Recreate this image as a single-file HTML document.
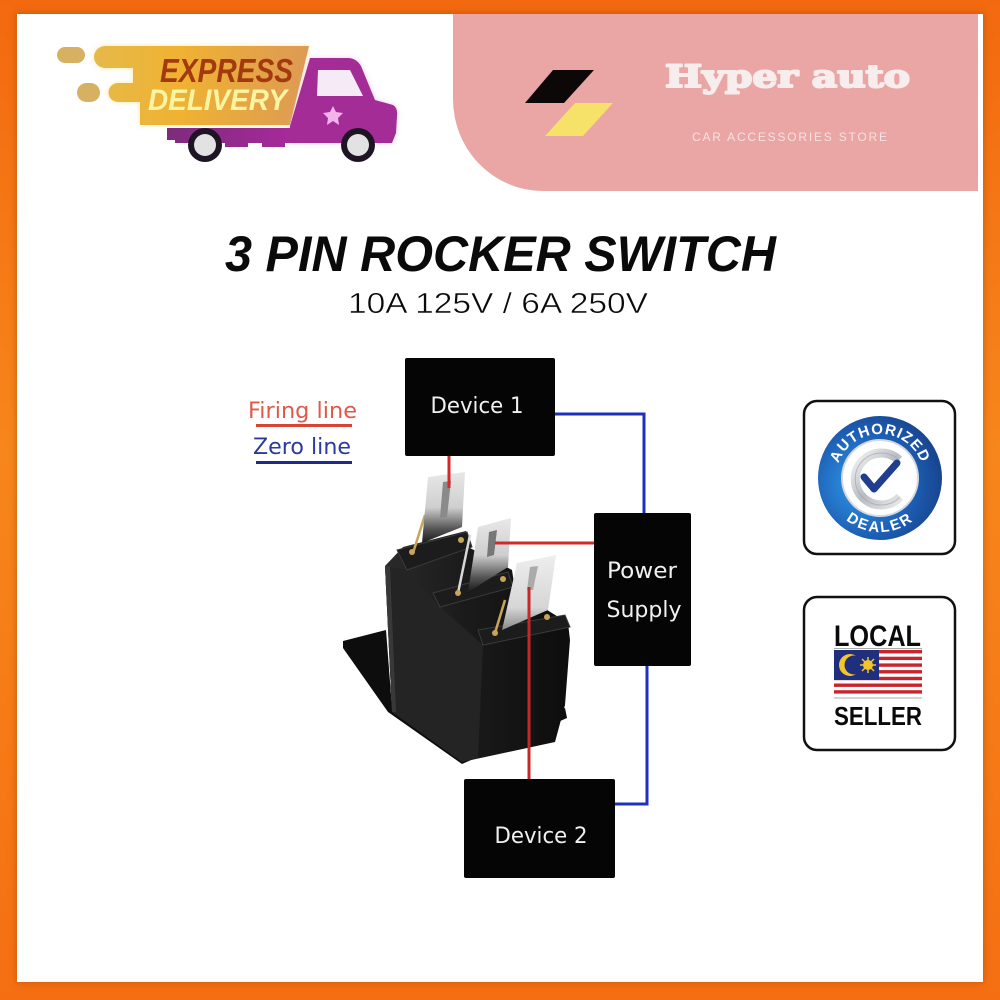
<!DOCTYPE html>
<html><head><meta charset="utf-8">
<style>
html,body{margin:0;padding:0;width:1000px;height:1000px;overflow:hidden;}
body{background:linear-gradient(180deg,#f3690f 0%,#f7861c 45%,#f56f12 100%);position:relative;}
#inner{position:absolute;left:17px;top:14px;width:966px;height:968px;background:#fff;box-shadow:0 0 6px 1px rgba(170,80,10,0.55);}
#pink{position:absolute;left:453px;top:14px;width:525px;height:177px;background:#e9a6a5;border-bottom-left-radius:90px 92px;}
svg{position:absolute;left:0;top:0;}
</style></head>
<body>
<div id="inner"></div>
<div id="pink"></div>
<svg width="1000" height="1000" viewBox="0 0 1000 1000" xmlns="http://www.w3.org/2000/svg">
<defs>
  <linearGradient id="ban" x1="0" y1="0" x2="1" y2="0">
    <stop offset="0" stop-color="#e6b94a"/><stop offset="0.4" stop-color="#efb232"/><stop offset="1" stop-color="#dd9a55"/>
  </linearGradient>
  <linearGradient id="trk" x1="0" y1="0" x2="1" y2="0">
    <stop offset="0" stop-color="#7d2b7c"/><stop offset="1" stop-color="#a82a9c"/>
  </linearGradient>
  <linearGradient id="pin" x1="0" y1="0" x2="0" y2="1">
    <stop offset="0" stop-color="#e8e8e8"/><stop offset="0.5" stop-color="#cfcfcf"/><stop offset="0.8" stop-color="#555"/><stop offset="1" stop-color="#1a1a1a"/>
  </linearGradient>
  <linearGradient id="pin3" x1="0" y1="0" x2="0" y2="1">
    <stop offset="0" stop-color="#eeeeee"/><stop offset="0.7" stop-color="#d6d6d6"/><stop offset="1" stop-color="#888"/>
  </linearGradient>
  <linearGradient id="body" x1="0" y1="0" x2="1" y2="0">
    <stop offset="0" stop-color="#2a2a2a"/><stop offset="0.45" stop-color="#1a1a1a"/><stop offset="1" stop-color="#0d0d0d"/>
  </linearGradient>
  <radialGradient id="ring" cx="0.35" cy="0.55" r="0.7">
    <stop offset="0" stop-color="#2f9bea"/><stop offset="0.6" stop-color="#1d5fb5"/><stop offset="1" stop-color="#173f86"/>
  </radialGradient>
  <linearGradient id="silver" x1="0" y1="0" x2="1" y2="1">
    <stop offset="0" stop-color="#f4f4f4"/><stop offset="0.5" stop-color="#b8bcc2"/><stop offset="1" stop-color="#e8e8e8"/>
  </linearGradient>
  <filter id="glowY" x="-20%" y="-30%" width="140%" height="160%"><feGaussianBlur stdDeviation="3"/></filter>
  <path id="arcTop" d="M836,478 A44,44 0 0 1 924,478"/>
  <path id="arcBot" d="M826,478 A54,54 0 0 0 934,478"/>
</defs>

<!-- Express delivery -->
<g>
  <path d="M105,46 L309,46 L290,125 L140,125 L140,102 L118,102 A9.5,9.5 0 0 1 118,83 L133,83 L133,68 L105,68 A11,11 0 0 1 105,46 Z" fill="#f6dc7a" opacity="0.6" filter="url(#glowY)"/>
  <rect x="57" y="47" width="28" height="16" rx="8" fill="#d8b062"/>
  <rect x="77" y="83" width="23" height="19" rx="9.5" fill="#d8b062"/>
  <path d="M105,46 L309,46 L290,125 L140,125 L140,102 L118,102 A9.5,9.5 0 0 1 118,83 L133,83 L133,68 L105,68 A11,11 0 0 1 105,46 Z" fill="url(#ban)"/>
  <g>
    <path d="M310,58 L348,58 Q356,58 361,66 L375,100 L393,105 Q398,108 397,116 L396,133 L392,143 L290,143 L290,126 Z" fill="#e8a0e0" opacity="0.5" filter="url(#glowY)"/>
    <path d="M167,128 L295,128 L295,143 L285,143 L285,147 L262,147 L262,143 L248,143 L248,147 L225,147 L225,143 L175,143 L175,140 L167,140 Z" fill="url(#trk)"/>
    <path d="M310,58 L348,58 Q356,58 361,66 L375,100 L393,105 Q398,108 397,116 L396,133 L392,143 L290,143 L290,126 Z" fill="#a42c97"/>
    <polygon points="318,70 350,70 363,96 317,96" fill="#f5eaf5"/>
    <polygon points="333,106 336,112 343,113 338,118 339,125 333,121 327,125 328,118 323,113 330,112" fill="#f3b4ec"/>
    <circle cx="205" cy="145" r="17" fill="#1e1424"/><circle cx="205" cy="145" r="11" fill="#e2e2e2"/>
    <circle cx="358" cy="145" r="17" fill="#1e1424"/><circle cx="358" cy="145" r="11" fill="#e2e2e2"/>
  </g>
  <text x="160" y="82" font-family="Liberation Sans, sans-serif" font-weight="bold" font-style="italic" font-size="33" textLength="133" lengthAdjust="spacingAndGlyphs" fill="#a3390f">EXPRESS</text>
  <text x="148" y="110" font-family="Liberation Sans, sans-serif" font-weight="bold" font-style="italic" font-size="30" textLength="139" lengthAdjust="spacingAndGlyphs" fill="#fbf4a2">DELIVERY</text>
</g>

<!-- Hyper auto logo -->
<polygon points="525,103 553,70 594,70 564,103" fill="#0c0808"/>
<polygon points="545,136 575,103 613,103 583,136" fill="#f6e169"/>
<text x="665" y="87" font-family="DejaVu Serif, serif" font-weight="bold" font-size="31" textLength="245" lengthAdjust="spacingAndGlyphs" fill="#f8eded" stroke="#f8eded" stroke-width="2" stroke-linejoin="round">Hyper auto</text>
<text x="692" y="141" font-family="Liberation Sans, sans-serif" font-size="12" textLength="195" lengthAdjust="spacing" fill="#f6e1e1">CAR ACCESSORIES STORE</text>

<!-- Title -->
<text x="225" y="271" font-family="Liberation Sans, sans-serif" font-weight="bold" font-style="italic" font-size="50" textLength="551" lengthAdjust="spacingAndGlyphs" fill="#0a0a0a">3 PIN ROCKER SWITCH</text>
<text x="348" y="313" font-family="Liberation Sans, sans-serif" font-size="29" textLength="300" lengthAdjust="spacingAndGlyphs" fill="#0a0a0a" stroke="#ffffff" stroke-width="0.5">10A 125V / 6A 250V</text>

<!-- Legend -->
<text x="248" y="418" font-family="DejaVu Sans, sans-serif" font-size="22" textLength="109" lengthAdjust="spacingAndGlyphs" fill="#e05a4a">Firing line</text>
<rect x="256" y="424" width="96" height="3" fill="#d84535"/>
<text x="253" y="454" font-family="DejaVu Sans, sans-serif" font-size="22" textLength="98" lengthAdjust="spacingAndGlyphs" fill="#2c3aa0">Zero line</text>
<rect x="256" y="461" width="96" height="3" fill="#1f2a8e"/>

<!-- Switch -->
<g>
  <polygon points="343,641 386,630 392,708 462,752 565,708 567,718 462,764 388,712 343,648" fill="#0d0d0d"/>
  <polygon points="385,566 403,547 466,531 470,548 512,570 515,590 568,623 570,640 565,705 555,742 462,762 392,712" fill="url(#body)"/>
  <polygon points="385,566 407,570 440,607 483,645 478,758 462,762 392,712" fill="#242424"/>
  <polygon points="385,566 390,566 396,712 392,712" fill="#383838"/>
  <polygon points="397,550 467,532 472,547 407,570" fill="#1c1c1c" stroke="#3a3a3a" stroke-width="1"/>
  <polygon points="433,593 508,572 513,587 440,607" fill="#1c1c1c" stroke="#3a3a3a" stroke-width="1"/>
  <polygon points="478,630 565,615 570,627 483,645" fill="#1c1c1c" stroke="#3a3a3a" stroke-width="1"/>
  <line x1="413" y1="553" x2="425" y2="515" stroke="#c9a55a" stroke-width="2.5"/>
  <line x1="458" y1="593" x2="470" y2="535" stroke="#d8d8d8" stroke-width="2.5"/>
  <line x1="495" y1="633" x2="505" y2="600" stroke="#c9a55a" stroke-width="2.5"/>
  <circle cx="412" cy="552" r="3" fill="#c9a55a"/>
  <circle cx="458" cy="593" r="3" fill="#c9a55a"/>
  <circle cx="495" cy="633" r="3" fill="#c9a55a"/>
  <circle cx="461" cy="540" r="3" fill="#c9a55a"/>
  <circle cx="503" cy="579" r="3" fill="#c9a55a"/>
  <circle cx="547" cy="617" r="3" fill="#c9a55a"/>
  <polygon points="428,477 465,472 462,527 422,543" fill="url(#pin)"/>
  <polygon points="443,482 451,481 447,517 440,518" fill="#8a8a8a"/>
  <polygon points="478,527 511,518 508,567 468,592" fill="url(#pin)"/>
  <polygon points="489,532 497,530 494,555 487,557" fill="#777"/>
  <polygon points="517,563 556,555 548,610 502,630" fill="url(#pin3)"/>
  <polygon points="530,567 538,566 533,590 527,590" fill="#aaa"/>
</g>

<!-- Wires -->
<g fill="none" stroke-width="3">
  <polyline points="555,414 644,414 644,514" stroke="#1f2fbe"/>
  <polyline points="647,665 647,804 614,804" stroke="#1f2fbe"/>
  <line x1="449" y1="455" x2="449" y2="488" stroke="#d22a2a"/>
  <line x1="495" y1="543" x2="595" y2="543" stroke="#d22a2a"/>
  <line x1="529" y1="587" x2="529" y2="780" stroke="#c42828"/>
</g>

<!-- Boxes -->
<rect x="405" y="358" width="150" height="98" rx="2" fill="#050505"/>
<text x="477" y="413" text-anchor="middle" font-family="DejaVu Sans, sans-serif" font-size="22" textLength="93" lengthAdjust="spacingAndGlyphs" fill="#f0f0f0">Device 1</text>
<rect x="594" y="513" width="97" height="153" rx="2" fill="#050505"/>
<text x="642" y="578" text-anchor="middle" font-family="DejaVu Sans, sans-serif" font-size="22" textLength="70" lengthAdjust="spacingAndGlyphs" fill="#f0f0f0">Power</text>
<text x="644" y="617" text-anchor="middle" font-family="DejaVu Sans, sans-serif" font-size="22" textLength="75" lengthAdjust="spacingAndGlyphs" fill="#f0f0f0">Supply</text>
<rect x="464" y="779" width="151" height="99" rx="2" fill="#050505"/>
<text x="541" y="843" text-anchor="middle" font-family="DejaVu Sans, sans-serif" font-size="22" textLength="93" lengthAdjust="spacingAndGlyphs" fill="#f0f0f0">Device 2</text>

<!-- Authorized badge -->
<rect x="804" y="401" width="151" height="153" rx="13" fill="#fff" stroke="#111" stroke-width="2.5"/>
<circle cx="880" cy="478" r="62" fill="url(#ring)"/>
<circle cx="880" cy="478" r="38" fill="#fff" stroke="#d5d8de" stroke-width="2"/>
<path d="M899,460 A26,26 0 1 0 900,497" fill="none" stroke="url(#silver)" stroke-width="9"/>
<path d="M899,460 A26,26 0 1 0 900,497" fill="none" stroke="#9aa0a8" stroke-width="1" opacity="0.6"/>
<polyline points="864,477 874,489 897,463" fill="none" stroke="#1f3f8e" stroke-width="7" stroke-linecap="round" stroke-linejoin="round"/>
<text font-family="Liberation Sans, sans-serif" font-weight="bold" font-size="15" fill="#fff" letter-spacing="1"><textPath href="#arcTop" startOffset="50%" text-anchor="middle">AUTHORIZED</textPath></text>
<text font-family="Liberation Sans, sans-serif" font-weight="bold" font-size="15" fill="#fff" letter-spacing="2"><textPath href="#arcBot" startOffset="50%" text-anchor="middle">DEALER</textPath></text>

<!-- Local seller badge -->
<rect x="804" y="597" width="151" height="153" rx="13" fill="#fff" stroke="#111" stroke-width="2.5"/>
<text x="834" y="646" font-family="Liberation Sans, sans-serif" font-weight="bold" font-size="30" textLength="87" lengthAdjust="spacingAndGlyphs" fill="#0a0a0a">LOCAL</text>
<g>
  <rect x="834" y="648" width="88" height="1" fill="#aaa"/>
  <rect x="834" y="650" width="88" height="47" fill="#fff"/>
  <rect x="834" y="650" width="88" height="3.4" fill="#c9242c"/>
  <rect x="834" y="656.7" width="88" height="3.4" fill="#c9242c"/>
  <rect x="834" y="663.4" width="88" height="3.4" fill="#c9242c"/>
  <rect x="834" y="670.1" width="88" height="3.4" fill="#c9242c"/>
  <rect x="834" y="676.8" width="88" height="3.4" fill="#c9242c"/>
  <rect x="834" y="683.5" width="88" height="3.4" fill="#c9242c"/>
  <rect x="834" y="690.2" width="88" height="3.4" fill="#c9242c"/>
  <rect x="834" y="650" width="45" height="30" fill="#1f2f7e"/>
  <circle cx="850" cy="665" r="11" fill="#f4c52a"/>
  <circle cx="854" cy="665" r="9.5" fill="#1f2f7e"/>
  <circle cx="868" cy="665" r="5" fill="#f4c52a"/>
  <g stroke="#f4c52a" stroke-width="1.5">
    <line x1="868" y1="657" x2="868" y2="673"/><line x1="860" y1="665" x2="876" y2="665"/>
    <line x1="862" y1="659" x2="874" y2="671"/><line x1="874" y1="659" x2="862" y2="671"/>
  </g>
  <rect x="834" y="697.5" width="88" height="1" fill="#aaa"/>
</g>
<text x="834" y="725" font-family="Liberation Sans, sans-serif" font-weight="bold" font-size="26" textLength="88" lengthAdjust="spacingAndGlyphs" fill="#0a0a0a">SELLER</text>
</svg>
</body></html>
